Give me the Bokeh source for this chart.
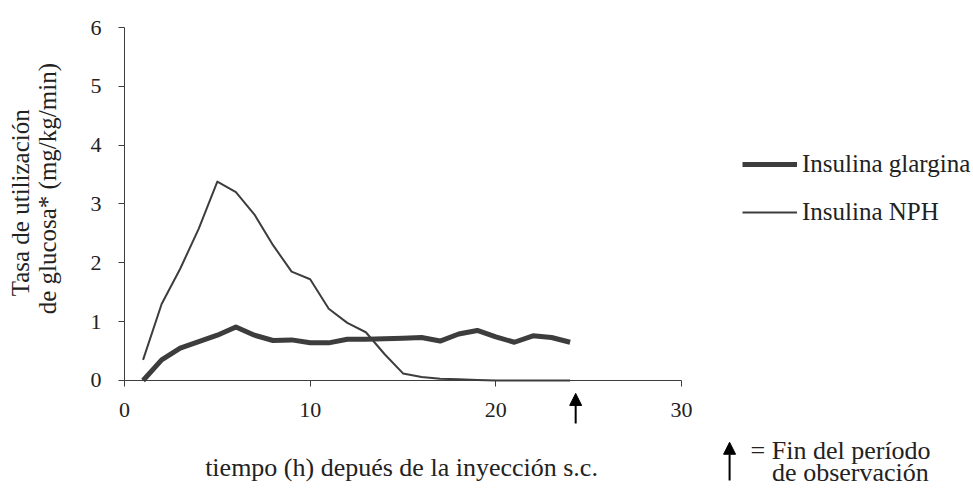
from bokeh.plotting import figure
from bokeh.models import Range1d, Label, Legend, LegendItem, Arrow, NormalHead, FixedTicker
from bokeh.embed import file_html
from bokeh.resources import INLINE

# ---- data ----
hours = list(range(1, 25))
glargina = [0.00, 0.35, 0.55, 0.66, 0.77, 0.91, 0.77, 0.68, 0.69, 0.64, 0.64, 0.70,
            0.70, 0.71, 0.72, 0.73, 0.67, 0.79, 0.85, 0.74, 0.65, 0.76, 0.73, 0.65]
nph = [0.35, 1.30, 1.90, 2.58, 3.38, 3.20, 2.82, 2.30, 1.85, 1.72, 1.22, 0.98,
       0.82, 0.45, 0.12, 0.06, 0.03, 0.02, 0.01, 0.00, 0.00, 0.00, 0.00, 0.00]
x_ticks = [0, 10, 20, 30]
y_ticks = [0, 1, 2, 3, 4, 5, 6]
end_obs = 24.3

FONT = "Liberation Serif"
INK = "#3d3d3d"
TXT = "#222222"

p = figure(width=973, height=489, output_backend="svg", toolbar_location=None,
           x_range=Range1d(-6.679, 45.727), y_range=Range1d(-1.853, 6.459),
           min_border=0, min_border_left=0, min_border_right=0,
           min_border_top=0, min_border_bottom=0)
p.outline_line_color = None
p.grid.visible = False
p.background_fill_color = "white"

for ax in (p.xaxis[0], p.yaxis[0]):
    ax.fixed_location = 0
    ax.axis_line_color = INK
    ax.major_tick_line_color = INK
    ax.minor_tick_line_color = None
    ax.major_tick_in = 0
    ax.major_tick_out = 6
    ax.major_label_text_font = FONT
    ax.major_label_text_font_size = "22px"
    ax.major_label_text_color = TXT
p.xaxis[0].ticker = FixedTicker(ticks=x_ticks)
p.yaxis[0].ticker = FixedTicker(ticks=y_ticks)
p.xaxis[0].bounds = (0, 30)
p.yaxis[0].bounds = (0, 6)
p.xaxis[0].major_label_standoff = 17
p.yaxis[0].major_label_standoff = 17

r1 = p.line(hours, glargina, line_width=5, line_color=INK, line_join="round")
r2 = p.line(hours, nph, line_width=2, line_color=INK, line_join="round")

legend = Legend(items=[LegendItem(label="Insulina glargina", renderers=[r1]),
                       LegendItem(label="Insulina NPH", renderers=[r2])],
                location=(742, 263), border_line_color=None, background_fill_alpha=0,
                glyph_width=55, glyph_height=20, label_height=20, spacing=20,
                padding=0, margin=0, label_standoff=5,
                label_text_font=FONT, label_text_font_size="25px", label_text_color=TXT)
p.add_layout(legend)

def lab(x, y, text, size="23px", angle=0, align="left"):
    p.add_layout(Label(x=x, y=y, text=text, text_font=FONT, text_font_size=size,
                       text_color=TXT, text_align=align, text_baseline="middle",
                       angle=angle))

lab(14.92, -1.48, "tiempo (h) depués de la inyección s.c.", size="26px", align="center")
lab(-5.60, 3.02, "Tasa de utilización", size="25px", angle=1.5708, align="center")
lab(-4.15, 3.26, "de glucosa* (mg/kg/min)", size="25px", angle=1.5708, align="center")
lab(33.72, -1.19, "= Fin del período", size="26px")
lab(34.88, -1.56, "de observación", size="26px")

p.add_layout(Arrow(x_start=end_obs, y_start=-0.73, x_end=end_obs, y_end=-0.22,
                   line_width=2, line_color="black",
                   end=NormalHead(size=12, fill_color="black", line_color="black")))
p.add_layout(Arrow(x_start=32.59, y_start=-1.70, x_end=32.59, y_end=-1.05,
                   line_width=2, line_color="black",
                   end=NormalHead(size=12, fill_color="black", line_color="black")))

open("out.html", "w").write(file_html(p, INLINE))
